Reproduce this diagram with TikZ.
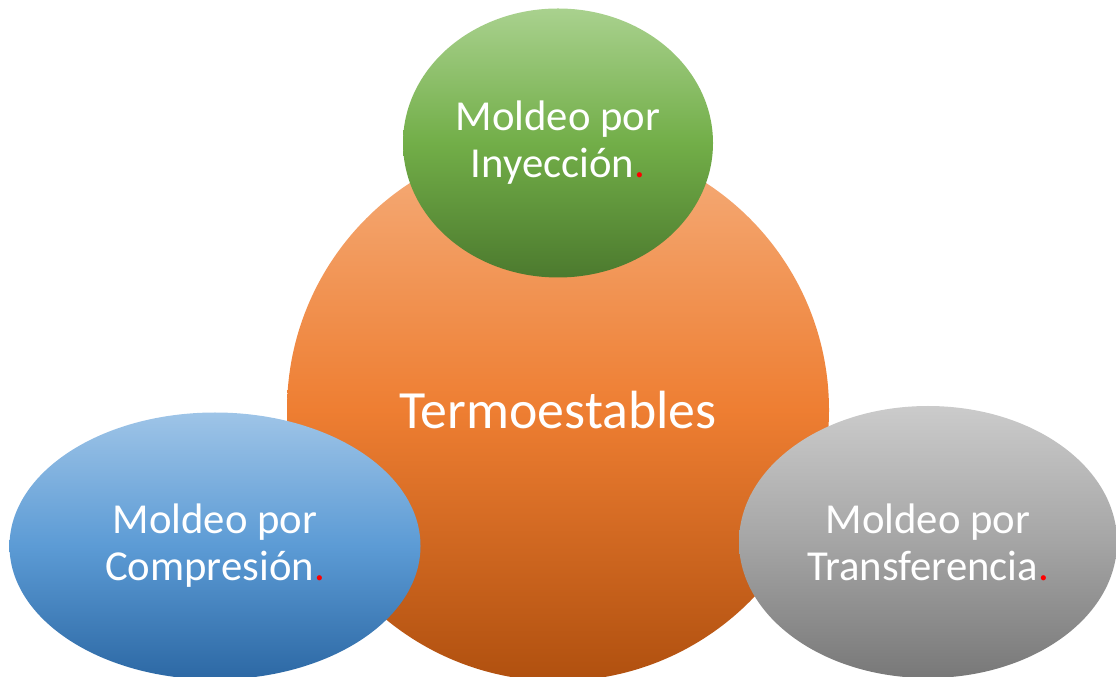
\documentclass[tikz,border=0pt]{standalone}
\usepackage{fontspec}
\setmainfont{Carlito}
\usetikzlibrary{shapes.geometric}
\definecolor{oTop}{HTML}{F5AE7C}
\definecolor{oMid}{HTML}{EE7E32}
\definecolor{oBot}{HTML}{B0500F}
\definecolor{gTop}{HTML}{A9D18E}
\definecolor{gMid}{HTML}{72AE48}
\definecolor{gBot}{HTML}{4C7A2E}
\definecolor{bTop}{HTML}{9EC4E7}
\definecolor{bMid}{HTML}{5C9BD5}
\definecolor{bBot}{HTML}{2C68A4}
\definecolor{sTop}{HTML}{CBCBCB}
\definecolor{sMid}{HTML}{A5A5A5}
\definecolor{sBot}{HTML}{787878}
\definecolor{dotred}{HTML}{FF0000}
\tikzset{
  blob/.style={ellipse, inner sep=0pt, draw=none, align=center, text=white,
    font=\fontsize{42.7}{47}\selectfont},
}
\begin{document}
\begin{tikzpicture}[x=1pt,y=1pt]
\useasboundingbox (0,0) rectangle (1116,677);
\node[circle, inner sep=0pt, minimum size=542pt, top color=oTop, bottom color=oBot, middle color=oMid,
  text=white, font=\fontsize{53.8}{60}\selectfont] (c) at (558,267) {Termoestables};
\node[blob, minimum width=310pt, minimum height=269pt, top color=gTop, bottom color=gBot, middle color=gMid]
  (g) at (558,534) {Moldeo por\\Inyección{\color{dotred}.}};
\node[blob, minimum width=411pt, minimum height=267pt, top color=bTop, bottom color=bBot, middle color=bMid]
  (b) at (215,131) {Moldeo por\\Compresión{\color{dotred}.}};
\node[blob, minimum width=378pt, minimum height=272pt, top color=sTop, bottom color=sBot, middle color=sMid]
  (s) at (928,135) {Moldeo por\\Transferencia{\color{dotred}.}};
\end{tikzpicture}
\end{document}
